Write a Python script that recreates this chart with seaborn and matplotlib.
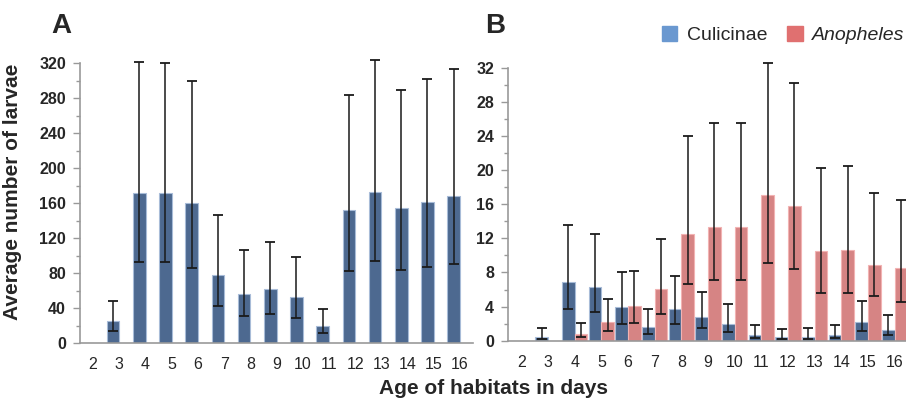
import numpy as np
import pandas as pd
import matplotlib
matplotlib.use("Agg")
import matplotlib.pyplot as plt
import seaborn as sns
from matplotlib.ticker import MultipleLocator
from matplotlib.patches import Patch

# -------------------------------
# Data
# -------------------------------
ages = [str(a) for a in range(2, 17)]

# Panel A: total larvae
total_mean = [0, 25, 172, 171.5, 160.5, 78, 56.5, 61.5, 52.3, 20, 152, 173, 155, 161, 168]
total_low = [0, 13.7, 93.3, 93, 86, 42.5, 31, 33.4, 28.5, 11.4, 82, 93.7, 83.5, 87, 90.7]
total_high = [0, 48.6, 321, 320, 300, 146.4, 107, 115.7, 98.3, 38.7, 284, 323, 289.4, 301.5, 313.6]

# Panel B: Culicinae
cul_mean = [0, 0.47, 6.93, 6.31, 3.93, 1.63, 3.74, 2.76, 1.99, 0.66, 0.39, 0.47, 0.66, 2.14, 1.25]
cul_low = [0, 0.23, 3.66, 3.31, 1.99, 0.82, 1.91, 1.44, 0.97, 0.31, 0.19, 0.23, 0.31, 1.13, 0.66]
cul_high = [0, 1.52, 13.58, 12.5, 8.02, 3.74, 7.63, 5.76, 4.32, 1.86, 1.32, 1.52, 1.87, 4.71, 3.0]

# Panel B: Anopheles
ano_mean = [0, 0, 0.74, 2.22, 4.01, 6.03, 12.53, 13.31, 13.31, 17.09, 15.84, 10.55, 10.67, 8.91, 8.52]
ano_low = [0, 0, 0.47, 1.13, 2.06, 3.15, 6.66, 7.08, 7.08, 9.15, 8.41, 5.57, 5.6, 5.22, 4.48]
ano_high = [0, 0, 2.02, 4.87, 8.21, 11.95, 24.0, 25.5, 25.5, 32.5, 30.16, 20.28, 20.47, 17.28, 16.5]

blue = "#42679B"
blue_edge = "#A8BCD8"
red = "#E47676"
red_edge = "#F2B3B3"

sns.set_style("white")
plt.rcParams["font.family"] = ["Liberation Sans", "DejaVu Sans"]

# panel A keeps an empty second slot so the bars sit in the left half, like panel B
df_a = pd.concat([
    pd.DataFrame({"age": ages, "value": total_mean, "group": "Total"}),
    pd.DataFrame({"age": ages, "value": 0.0, "group": "empty"}),
])
df_b = pd.concat([
    pd.DataFrame({"age": ages, "value": cul_mean, "group": "Culicinae"}),
    pd.DataFrame({"age": ages, "value": ano_mean, "group": "Anopheles"}),
])

fig = plt.figure(figsize=(9.06, 4.01), dpi=100)
ax_a = fig.add_axes([0.0883, 0.1439, 0.4338, 0.699])
ax_b = fig.add_axes([0.5607, 0.1504, 0.4415, 0.6808])

# -------------------------------
# Bars
# -------------------------------
sns.barplot(data=df_a, x="age", y="value", hue="group", hue_order=["Total", "empty"],
            order=ages, palette={"Total": blue, "empty": red}, width=0.96,
            errorbar=None, legend=False, ax=ax_a, linewidth=0.8)
sns.barplot(data=df_b, x="age", y="value", hue="group", hue_order=["Culicinae", "Anopheles"],
            order=ages, palette={"Culicinae": blue, "Anopheles": red}, width=0.96,
            errorbar=None, legend=False, ax=ax_b, linewidth=0.8)
for bar in ax_a.containers[0]:
    bar.set_edgecolor(blue_edge)
for bar in ax_a.containers[1]:
    bar.set_visible(False)
for bar in ax_b.containers[0]:
    bar.set_edgecolor(blue_edge)
for bar in ax_b.containers[1]:
    bar.set_edgecolor(red_edge)


def add_errors(ax, container, means, lows, highs):
    for bar, m, lo, hi in zip(container, means, lows, highs):
        if hi <= 0:
            continue
        x = bar.get_x() + bar.get_width() / 2
        ax.errorbar(x, m, yerr=[[m - lo], [hi - m]], fmt="none", ecolor="#1a1a1a",
                    elinewidth=1.1, capsize=3.5, capthick=1.3, zorder=5, clip_on=False)


add_errors(ax_a, ax_a.containers[0], total_mean, total_low, total_high)
add_errors(ax_b, ax_b.containers[0], cul_mean, cul_low, cul_high)
add_errors(ax_b, ax_b.containers[1], ano_mean, ano_low, ano_high)

# -------------------------------
# Axes styling
# -------------------------------
for ax, top, step in [(ax_a, 320, 40), (ax_b, 32, 4)]:
    ax.set_ylim(0, top)
    ax.set_xlim(-0.5, len(ages) - 0.5)
    ax.yaxis.set_major_locator(MultipleLocator(step))
    ax.yaxis.set_minor_locator(MultipleLocator(step / 2))
    ax.set_xticks(np.arange(-0.5, len(ages), 1), minor=True)
    ax.tick_params(axis="x", which="major", length=0, pad=10, labelsize=11.5)
    ax.tick_params(axis="x", which="minor", length=5, color="#999999", width=1)
    ax.tick_params(axis="y", which="major", length=5, color="#999999", width=1,
                   left=True, labelsize=11.5, pad=5)
    ax.tick_params(axis="y", which="minor", length=3, color="#999999", width=1, left=True)
    for lab in ax.get_yticklabels():
        lab.set_fontweight("bold")
    sns.despine(ax=ax)
    for s in ["left", "bottom"]:
        ax.spines[s].set_color("#999999")
        ax.spines[s].set_linewidth(1.2)
    ax.set_xlabel("")
    ax.set_ylabel("")

ax_a.set_ylabel("Average number of larvae", fontsize=15, fontweight="bold")
ax_a.yaxis.set_label_coords(-0.148, 0.54)
fig.text(0.545, 0.030, "Age of habitats in days", fontsize=15, fontweight="bold",
         ha="center", va="center")

fig.text(0.057, 0.935, "A", fontsize=20, fontweight="bold", ha="left", va="center")
fig.text(0.535, 0.935, "B", fontsize=20, fontweight="bold", ha="left", va="center")

handles = [Patch(facecolor="#6A98D0", edgecolor="#6A98D0", label="Culicinae"),
           Patch(facecolor="#E07070", edgecolor="#E07070", label="Anopheles")]
leg = fig.legend(handles=handles, loc="center right", bbox_to_anchor=(1.018, 0.912),
                 ncol=2, frameon=False, fontsize=14, handlelength=0.8, handleheight=0.8,
                 handletextpad=0.5, columnspacing=1.0)
leg.get_texts()[1].set_fontstyle("italic")

plt.savefig("out.png", dpi=100)
